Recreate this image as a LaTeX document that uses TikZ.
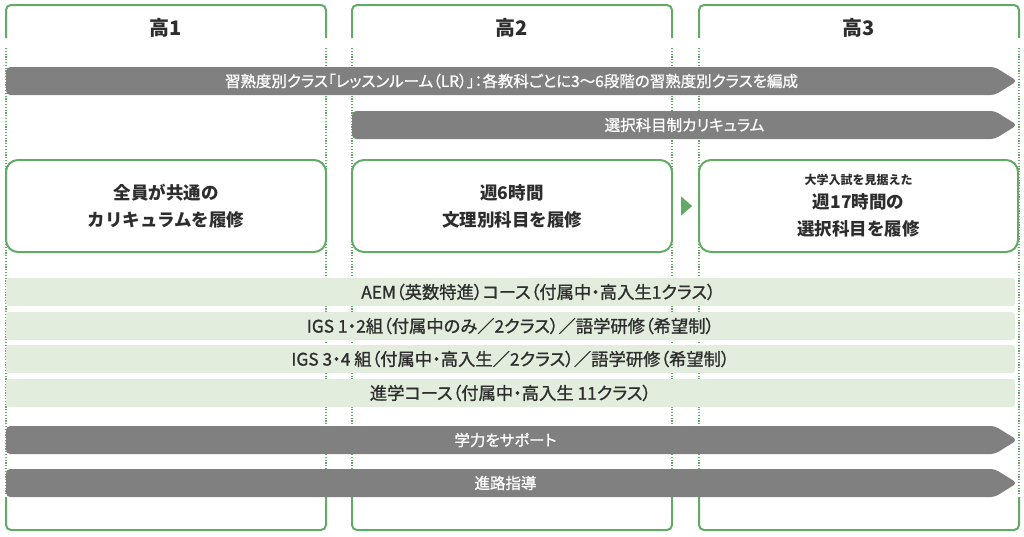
\documentclass[tikz,border=0pt]{standalone}
\usepackage{fontspec}
\setmainfont{Noto Sans CJK JP}
\newfontfamily\jpprop[RawFeature=+palt, FakeBold=1]{Noto Sans CJK JP}
\usepackage{xcolor}
\usetikzlibrary{positioning, shapes.symbols, shapes.geometric}
\definecolor{frame}{RGB}{98,170,102}
\definecolor{bandgray}{RGB}{128,128,128}
\definecolor{lightgreen}{RGB}{226,237,221}
\definecolor{ink}{RGB}{45,45,45}

\begin{document}
\begin{tikzpicture}[
    x=1pt, y=-1pt,
    every node/.style={inner sep=0pt, text=ink},
    colline/.style={draw=frame, line width=2pt, rounded corners=5pt},
    coldot/.style={draw=frame, line width=2pt, dash pattern=on 1.2pt off 1.6pt},
    head/.style={font=\bfseries\fontsize{20}{24}\selectfont},
    band/.style={signal, signal to=east, signal pointer angle=64, fill=bandgray, minimum height=28pt,
        rounded corners=4pt, text=white, anchor=west, font=\jpprop\fontsize{15.5}{18}\selectfont},
    course/.style={fill=lightgreen, minimum width=1009pt, minimum height=28pt, rounded corners=3pt,
        font=\jpprop\fontsize{17.3}{20}\selectfont},
    stage/.style={draw=frame, line width=2pt, rounded corners=12pt, minimum width=320pt,
        minimum height=92pt, align=center, font=\bfseries\fontsize{17.5}{27}\selectfont},
    tip/.style={isosceles triangle, isosceles triangle stretches, fill=frame, minimum width=19pt, minimum height=11pt}
]
\useasboundingbox (0,0) rectangle (1024,536);

% Columns
\foreach \x/\n in {6/1, 352/2, 699/3} {
    \draw[colline] (\x,38) -- (\x,5) -- (\x+320,5) -- (\x+320,38);
    \draw[coldot] (\x,48) -- (\x,495) (\x+320,48) -- (\x+320,495);
    \draw[colline] (\x,497) -- (\x,530) -- (\x+320,530) -- (\x+320,497);
    \node[head] (head\n) at (\x+160,28) {高\n};
}

% Bands
\node[band, minimum width=1011pt] (lr) at (6,81) {\hspace*{22pt}習熟度別クラス「レッスンルーム（LR）」：各教科ごとに3〜6段階の習熟度別クラスを編成};
\node[band, minimum width=665pt] (elective) at (352,125) {\hspace*{22pt}選択科目制カリキュラム};

% Stages
\node[stage] (stage1) at (166,206) {全員が共通の\\カリキュラムを履修};
\node[stage] (stage2) at (512,206) {週6時間\\文理別科目を履修};
\node[stage, minimum width=319pt] (stage3) at (858.5,206) {{\fontsize{12}{14}\selectfont 大学入試を見据えた}\\[-3pt]週17時間の\\選択科目を履修};
\path (stage2.east) -- node[tip] (next) {} (stage3.west);

% Courses
\node[course] (aem) at (510.5,292) {\hspace*{56pt}AEM（英数特進）コース（付属中・高入生1クラス）};
\node[course] (igs12) at (510.5,326) {IGS 1・2組（付属中のみ／2クラス）／語学研修（希望制）};
\node[course] (igs34) at (510.5,359) {IGS 3・4 組（付属中・高入生／2クラス）／語学研修（希望制）};
\node[course] (regular) at (510.5,393) {進学コース（付属中・高入生 11クラス）};

% Support
\node[band, minimum width=1011pt] (support) at (6,440) {\hspace*{10pt}学力をサポート};
\node[band, minimum width=1011pt] (career) at (6,483) {\hspace*{10pt}進路指導};

\end{tikzpicture}
\end{document}
